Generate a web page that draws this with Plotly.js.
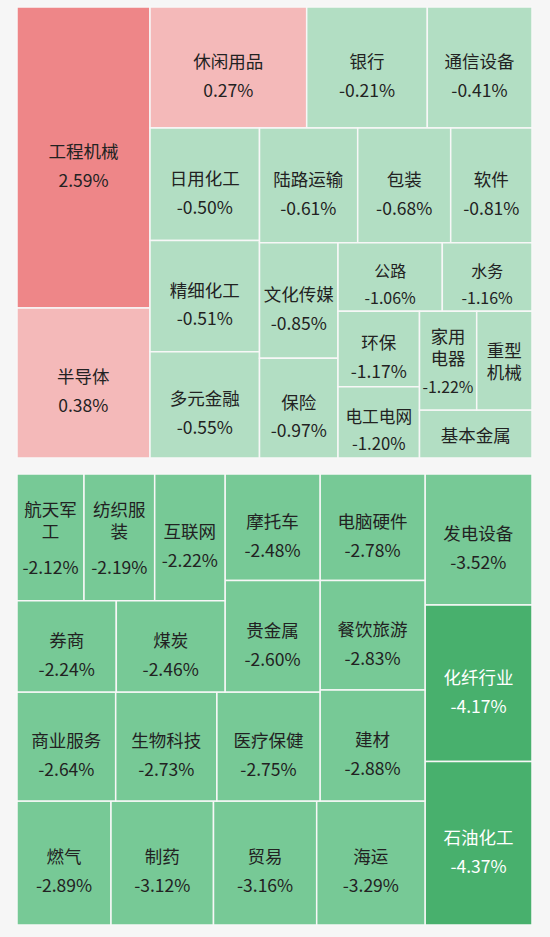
<!DOCTYPE html>
<html><head><meta charset="utf-8">
<script src="https://cdn.plot.ly/plotly-3.0.1.min.js"></script>
<style>html,body{margin:0;padding:0;background:#f6f6f6;}</style>
</head><body><div id="chart" style="width:550px;height:937px;"></div>
<script>
// ---- data ----
const topNames = ['工程机械','半导体','休闲用品','银行','通信设备','日用化工','精细化工','多元金融','陆路运输','包装','软件','文化传媒','保险','公路','水务','环保','电工电网','家用电器','重型机械','基本金属'];
const topChange = [2.59,0.38,0.27,-0.21,-0.41,-0.50,-0.51,-0.55,-0.61,-0.68,-0.81,-0.85,-0.97,-1.06,-1.16,-1.17,-1.20,-1.22,null,null];
const topSize = [40033,19950,18961,14593,12669,12319,12176,11640,11264,10667,9325,9075,7826,7155,6153,6145,5811,5646,5458,5400];

const bottomNames = ['航天军工','纺织服装','互联网','券商','煤炭','摩托车','贵金属','商业服务','生物科技','医疗保健','电脑硬件','餐饮旅游','建材','燃气','制药','贸易','海运','发电设备','化纤行业','石油化工'];
const bottomChange = [-2.12,-2.19,-2.22,-2.24,-2.46,-2.48,-2.60,-2.64,-2.73,-2.75,-2.78,-2.83,-2.88,-2.89,-3.12,-3.16,-3.29,-3.52,-4.17,-4.37];
const bottomSize = [8489,8958,8907,9066,9924,10118,10593,10758,11031,11238,11183,11498,11655,11656,12710,12797,13429,14017,16746,17495];

// ---- tiling structure (groups of indices, alternating columns / rows) ----
const topTree = [[0,1],[[2,3,4],[[5,6,7],[[8,9,10],[[11,12],[[13,14],[[15,16],[[17,18],19]]]]]]]];
const bottomTree = [[[[[[[0,1,2],[3,4]],[5,6]],[7,8,9]],[10,11,12]],[13,14,15,16]],[17,18,19]];

// label line breaks where the cell is narrow
const wrapAt = {'航天军工':3,'纺织服装':3,'家用电器':2,'重型机械':2};
const narrowPct = {'家用电器':16};

const FONT = '"Noto Sans CJK SC","Noto Sans",sans-serif';
const SZ = 17.5;
function sp(t, s){ return '<span style="font-size:'+(s||SZ)+'px">'+t+'</span>'; }
const spacer = '<span style="font-size:5px;color:rgba(0,0,0,0)">.</span>';

function cellText(name, v){
  const pct = (v === null) ? null : v.toFixed(2) + '%';
  if (wrapAt[name]) {
    const a = name.slice(0, wrapAt[name]), b = name.slice(wrapAt[name]);
    let s = sp(a) + '<br><br><br>' + sp(b);
    if (pct) s += (narrowPct[name] ? '<br><br><br><br>' : '<br><br><br><br><br>') + sp(pct, narrowPct[name]);
    return s;
  }
  if (!pct) return sp(name);
  return spacer + '<br><br><br><br>' + sp(name) + '<br><br><br><br>' + sp(pct);
}
function colorFor(v){
  if (v === null) return '#b2dec3';
  if (v >= 1) return '#ee8688';
  if (v > 0) return '#f4b9b9';
  if (v > -2) return '#b2dec3';
  if (v > -4) return '#77c996';
  return '#48b06d';
}
function fontColorFor(v){ return (v !== null && v <= -4) ? '#ffffff' : '#222222'; }

function buildTrace(names, change, size, tree, domain, prefix){
  const ids=[], labels=[], parents=[], values=[], texts=[], colors=[], lineW=[], fcol=[];
  function walk(node, parentId, path){
    if (typeof node === 'number'){
      const i = node;
      ids.push(prefix+'leaf'+i); labels.push(names[i]); parents.push(parentId);
      values.push(size[i]); texts.push(cellText(names[i], change[i]));
      colors.push(colorFor(change[i])); lineW.push(1.5); fcol.push(fontColorFor(change[i]));
    } else {
      const id = prefix+'g'+path;
      ids.push(id); labels.push(id); parents.push(parentId); values.push(0); texts.push('');
      colors.push('rgba(0,0,0,0)'); lineW.push(0); fcol.push('#222222');
      node.forEach((c,k)=>walk(c, id, path+'_'+k));
    }
  }
  walk(tree, '', '');
  return {
    type:'treemap', ids, labels, parents, values, text:texts, textinfo:'text',
    branchvalues:'remainder', sort:false,
    tiling:{packing:'slice-dice', pad:0},
    marker:{colors, line:{width:lineW, color:'#f7f7f7'}, pad:{t:0,l:0,r:0,b:0}, depthfade:false},
    leaf:{opacity:1}, root:{color:'rgba(0,0,0,0)'},
    pathbar:{visible:false},
    textposition:'middle center',
    textfont:{family:FONT, size:5.54, color:fcol},
    hoverinfo:'skip',
    domain
  };
}

const W = 550, H = 937;
const data = [
  buildTrace(topNames, topChange, topSize, topTree, {x:[17/W, 532/W], y:[1-458/H, 1-7/H]}, 't'),
  buildTrace(bottomNames, bottomChange, bottomSize, bottomTree, {x:[17/W, 532/W], y:[1-925/H, 1-474/H]}, 'b')
];
const layout = {width:W, height:H, margin:{l:0,r:0,t:0,b:0}, paper_bgcolor:'#f6f6f6', showlegend:false};
Plotly.newPlot('chart', data, layout, {staticPlot:true});
</script></body></html>
